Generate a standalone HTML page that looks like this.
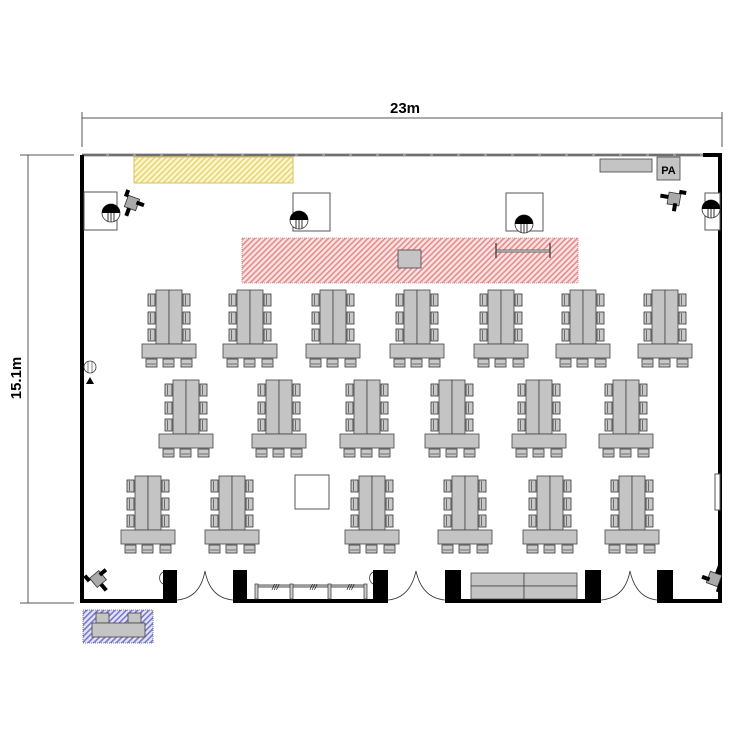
<!DOCTYPE html>
<html><head><meta charset="utf-8"><style>
html,body{margin:0;padding:0;background:#fff;width:750px;height:750px;overflow:hidden}
svg{display:block}
</style></head><body>
<svg width="750" height="750" viewBox="0 0 750 750" xmlns="http://www.w3.org/2000/svg">
<defs>
<pattern id="yel" width="4" height="4" patternUnits="userSpaceOnUse" patternTransform="rotate(45)"><rect width="4" height="4" fill="#fdf6c8"/><rect width="1.5" height="4" fill="#e8d37a"/></pattern>
<pattern id="red" width="4" height="4" patternUnits="userSpaceOnUse" patternTransform="rotate(45)"><rect width="4" height="4" fill="#fbe3e3"/><rect width="1.6" height="4" fill="#e58c8c"/></pattern>
<pattern id="blu" width="4" height="4" patternUnits="userSpaceOnUse" patternTransform="rotate(45)"><rect width="4" height="4" fill="#e4e4fa"/><rect width="1.6" height="4" fill="#7878c8"/></pattern>
<g id="sc"><rect x="0" y="0" width="7" height="12" fill="#c8c8c8" stroke="#333" stroke-width="0.8"/><line x1="2.5" y1="1" x2="2.5" y2="11" stroke="#333" stroke-width="0.6"/></g>
<g id="bc"><rect x="0" y="0" width="11" height="8" fill="#c8c8c8" stroke="#333" stroke-width="0.8"/><line x1="1" y1="5" x2="10" y2="5" stroke="#333" stroke-width="0.6"/></g>
<g id="cl">
<use href="#sc" x="-8" y="4"/><use href="#sc" x="-8" y="22"/><use href="#sc" x="-8" y="39"/>
<use href="#sc" x="27" y="4"/><use href="#sc" x="27" y="22"/><use href="#sc" x="27" y="39"/>
<rect x="0" y="0" width="13" height="54" fill="#c4c4c4" stroke="#444" stroke-width="0.8"/>
<rect x="13" y="0" width="13" height="54" fill="#c4c4c4" stroke="#444" stroke-width="0.8"/>
<rect x="-14" y="54" width="54" height="14" fill="#c4c4c4" stroke="#444" stroke-width="0.8"/>
<use href="#bc" x="-10" y="69"/><use href="#bc" x="7" y="69"/><use href="#bc" x="25" y="69"/>
</g>
<g id="mic"><circle r="9" fill="#fff" stroke="#333" stroke-width="0.8"/><path d="M-9,0 A9,9 0 0 1 9,0 Z" fill="#000"/><line x1="-3" y1="0" x2="-3" y2="8.5" stroke="#333"/><line x1="0" y1="0" x2="0" y2="9" stroke="#333"/><line x1="3" y1="0" x2="3" y2="8.5" stroke="#333"/></g>
<g id="spk"><rect x="-6" y="-6" width="12" height="12" fill="#aaa" stroke="#333" stroke-width="0.8"/><rect x="-10" y="-11" width="4" height="7" fill="#000"/><rect x="4" y="-4" width="8" height="4" fill="#000"/><rect x="-3" y="6" width="4" height="8" fill="#000"/></g>
</defs>

<!-- dimensions -->
<g stroke="#555" stroke-width="1">
<line x1="82" y1="118" x2="722" y2="118"/>
<line x1="82" y1="112" x2="82" y2="147"/>
<line x1="722" y1="112" x2="722" y2="147"/>
<line x1="28" y1="155" x2="28" y2="603"/>
<line x1="20" y1="155" x2="74" y2="155"/>
<line x1="20" y1="603" x2="74" y2="603"/>
</g>
<text x="405" y="113" font-family="Liberation Sans,sans-serif" font-weight="bold" font-size="15" text-anchor="middle">23m</text>
<text transform="translate(21,378) rotate(-90)" font-family="Liberation Sans,sans-serif" font-weight="bold" font-size="15" text-anchor="middle">15.1m</text>

<!-- walls -->
<line x1="82" y1="155" x2="722" y2="155" stroke="#999" stroke-width="3"/>
<line x1="82" y1="155" x2="722" y2="155" stroke="#444" stroke-width="1" stroke-dasharray="24,3"/>
<rect x="703" y="153" width="19" height="4" fill="#000"/>
<rect x="80" y="155" width="4" height="448" fill="#000"/>
<rect x="718" y="153" width="4" height="450" fill="#000"/>
<rect x="80" y="599" width="97" height="4" fill="#000"/>
<rect x="163" y="570" width="14" height="33" fill="#000"/>
<rect x="233" y="570" width="14" height="33" fill="#000"/>
<rect x="233" y="599" width="155" height="4" fill="#000"/>
<rect x="373" y="570" width="15" height="33" fill="#000"/>
<rect x="445" y="570" width="16" height="33" fill="#000"/>
<rect x="445" y="599" width="156" height="4" fill="#000"/>
<rect x="585" y="570" width="16" height="33" fill="#000"/>
<rect x="657" y="570" width="16" height="33" fill="#000"/>
<rect x="657" y="599" width="65" height="4" fill="#000"/>
<!-- doors -->
<g fill="none" stroke="#333" stroke-width="0.8">
<path d="M177,600 Q200,598 205,571 Q210,598 233,600"/>
<path d="M388,600 Q410,598 416,571 Q422,598 445,600"/>
<path d="M601,600 Q625,598 630,571 Q636,598 657,600"/>
<path d="M163,572 A7,7 0 0 0 163,584"/>
<path d="M373,572 A7,7 0 0 0 373,584"/>
</g>
<!-- partition in bottom -->
<line x1="256" y1="586" x2="366" y2="586" stroke="#555" stroke-width="3"/>
<line x1="256" y1="586" x2="366" y2="586" stroke="#ddd" stroke-width="1"/>
<g fill="#ccc" stroke="#333" stroke-width="0.7">
<rect x="255" y="584" width="3" height="15"/><rect x="290" y="584" width="3" height="15"/><rect x="328" y="584" width="3" height="15"/><rect x="364" y="584" width="3" height="15"/>
</g>
<text x="310" y="590" font-family="Liberation Sans,sans-serif" font-style="italic" font-size="8">///</text>
<text x="272" y="590" font-family="Liberation Sans,sans-serif" font-style="italic" font-size="8">///</text>
<text x="347" y="590" font-family="Liberation Sans,sans-serif" font-style="italic" font-size="8">///</text>
<!-- bottom storage -->
<g fill="#c4c4c4" stroke="#444" stroke-width="0.8">
<rect x="471" y="573" width="53" height="13"/><rect x="524" y="573" width="53" height="13"/>
<rect x="471" y="586" width="53" height="13"/><rect x="524" y="586" width="53" height="13"/>
</g>

<!-- top items -->
<rect x="134" y="157" width="159" height="26" fill="url(#yel)" stroke="#d8c060" stroke-width="1"/>
<rect x="600" y="159" width="52" height="13" fill="#c4c4c4" stroke="#444" stroke-width="0.8"/>
<rect x="657" y="157" width="23" height="23" fill="#c4c4c4" stroke="#444" stroke-width="0.8"/>
<text x="668.5" y="174" font-family="Liberation Sans,sans-serif" font-weight="bold" font-size="11" text-anchor="middle">PA</text>

<!-- stage -->
<rect x="242" y="238" width="336" height="45" fill="url(#red)" stroke="#c77" stroke-width="0.8" stroke-dasharray="1,1"/>
<rect x="398" y="250" width="23" height="18" fill="#c4c4c4" stroke="#444" stroke-width="0.8"/>
<line x1="496" y1="251" x2="550" y2="251" stroke="#666" stroke-width="3"/>
<line x1="496" y1="251" x2="550" y2="251" stroke="#ddd" stroke-width="1"/>
<line x1="496" y1="243" x2="496" y2="258" stroke="#333" stroke-width="1.2"/>
<line x1="550" y1="243" x2="550" y2="258" stroke="#333" stroke-width="1.2"/>

<!-- screens/boxes -->
<g fill="#fff" stroke="#555" stroke-width="1">
<rect x="84" y="192" width="33" height="38"/>
<rect x="293" y="193" width="37" height="38"/>
<rect x="506" y="193" width="37" height="38"/>
<rect x="705" y="193" width="15" height="37"/>
<rect x="295" y="475" width="34" height="34"/>
<rect x="715" y="474" width="5" height="36"/>
</g>
<use href="#mic" x="111" y="213"/>
<use href="#mic" x="299" y="220"/>
<use href="#mic" x="524" y="224"/>
<use href="#mic" x="711" y="209"/>
<g><circle cx="90" cy="367" r="6" fill="#fff" stroke="#333" stroke-width="0.8"/><line x1="88" y1="361" x2="88" y2="373" stroke="#333" stroke-width="0.6"/><line x1="92" y1="361" x2="92" y2="373" stroke="#333" stroke-width="0.6"/><path d="M86,384 L90,377 L94,384 Z" fill="#000"/></g>

<!-- speakers -->
<use href="#spk" transform="translate(132,203) rotate(20)"/>
<use href="#spk" transform="translate(674,199) rotate(100)"/>
<use href="#spk" transform="translate(98,579) rotate(-40)"/>
<use href="#spk" transform="translate(714,579) rotate(200)"/>

<!-- clusters -->
<use href="#cl" x="156" y="290"/><use href="#cl" x="237" y="290"/><use href="#cl" x="320" y="290"/><use href="#cl" x="404" y="290"/><use href="#cl" x="488" y="290"/><use href="#cl" x="570" y="290"/><use href="#cl" x="652" y="290"/>
<use href="#cl" x="173" y="380"/><use href="#cl" x="266" y="380"/><use href="#cl" x="354" y="380"/><use href="#cl" x="439" y="380"/><use href="#cl" x="526" y="380"/><use href="#cl" x="613" y="380"/>
<use href="#cl" x="135" y="476"/><use href="#cl" x="219" y="476"/><use href="#cl" x="359" y="476"/><use href="#cl" x="452" y="476"/><use href="#cl" x="537" y="476"/><use href="#cl" x="619" y="476"/>

<!-- reception outside -->
<rect x="83" y="610" width="70" height="33" fill="url(#blu)" stroke="#55a" stroke-width="0.8" stroke-dasharray="1,1"/>
<rect x="96" y="613" width="13" height="10" fill="#c4c4c4" stroke="#444" stroke-width="0.8"/>
<rect x="128" y="613" width="13" height="10" fill="#c4c4c4" stroke="#444" stroke-width="0.8"/>
<rect x="92" y="623" width="53" height="14" fill="#c4c4c4" stroke="#444" stroke-width="0.8"/>
</svg>
</body></html>
